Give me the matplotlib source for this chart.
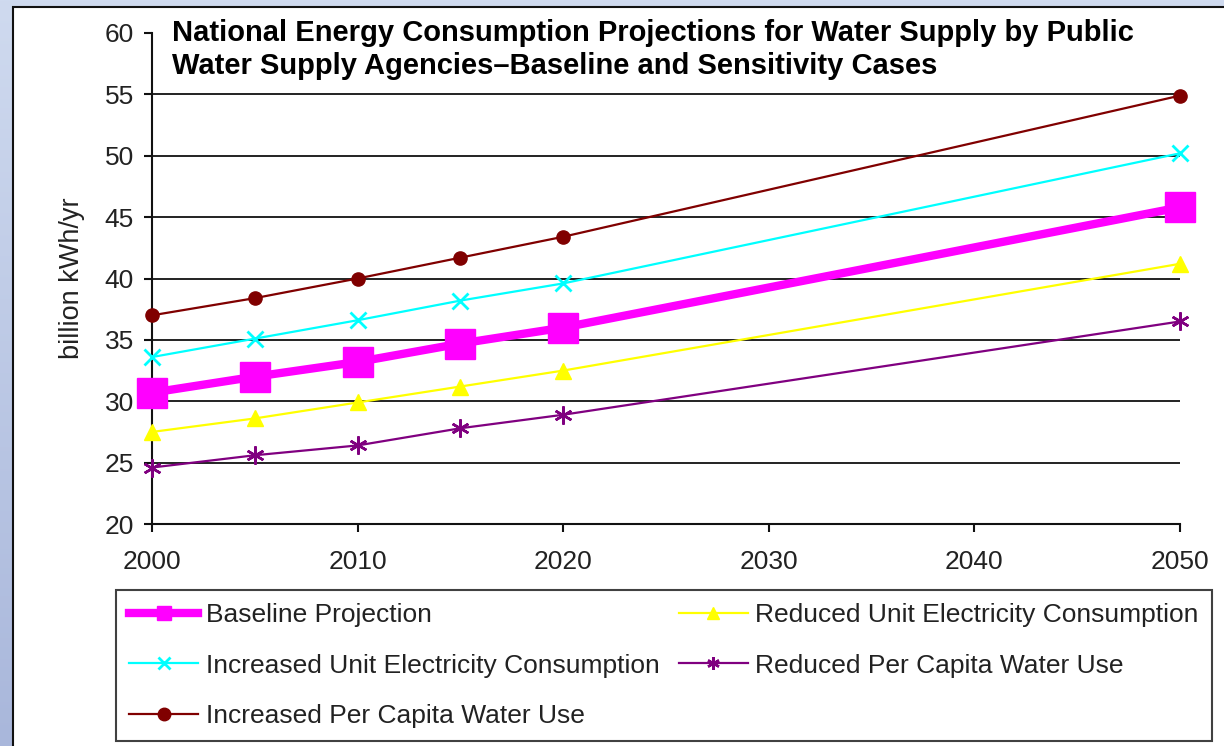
import numpy as np
import matplotlib.pyplot as plt
from matplotlib.patches import Rectangle
from matplotlib.colors import LinearSegmentedColormap

plt.rcParams['font.family'] = ['Liberation Sans', 'DejaVu Sans']

# projection years and series values (billion kWh/yr)
years = [2000, 2005, 2010, 2015, 2020, 2050]
baseline = [30.7, 32.0, 33.2, 34.7, 36.0, 45.8]
inc_unit = [33.6, 35.1, 36.6, 38.2, 39.6, 50.2]
inc_capita = [37.0, 38.4, 40.0, 41.7, 43.4, 54.9]
red_unit = [27.5, 28.6, 29.9, 31.2, 32.5, 41.2]
red_capita = [24.6, 25.6, 26.4, 27.8, 28.9, 36.5]

xticks = [2000, 2010, 2020, 2030, 2040, 2050]
yticks = [20, 25, 30, 35, 40, 45, 50, 55, 60]

W, H = 1224, 746
fig = plt.figure(figsize=(W / 100, H / 100), dpi=100)

# slide background: bluish gradient with a white framed chart area
bg = fig.add_axes([0, 0, 1, 1], zorder=-10)
grad = np.linspace(0, 1, 256).reshape(-1, 1)
bg.imshow(grad, aspect='auto', extent=[0, 1, 0, 1], origin='lower',
          cmap=LinearSegmentedColormap.from_list('bgc', ['#a9b7db', '#cfdaef']))
bg.add_patch(Rectangle((13 / W, -0.01), 1.0, 1 - 7 / H + 0.01,
                       facecolor='white', edgecolor='#111111', lw=1.5))
bg.set_xlim(0, 1)
bg.set_ylim(0, 1)
bg.axis('off')

ax = fig.add_axes([152 / W, 1 - 524 / H, (1180 - 152) / W, (524 - 33) / H])
ax.set_facecolor('none')

ax.plot(years, baseline, color='#ff00ff', lw=6, marker='s', ms=21,
        label='Baseline Projection', clip_on=False, zorder=5)
ax.plot(years, inc_unit, color='#00ffff', lw=1.6, marker='x', ms=12, mew=2,
        label='Increased Unit Electricity Consumption', clip_on=False, zorder=4)
ax.plot(years, inc_capita, color='#800000', lw=1.6, marker='o', ms=9.5,
        label='Increased Per Capita Water Use', clip_on=False, zorder=4)
ax.plot(years, red_unit, color='#ffff00', lw=1.6, marker='^', ms=12,
        label='Reduced Unit Electricity Consumption', clip_on=False, zorder=4)
ax.plot(years, red_capita, color='#800080', lw=1.6, marker=(6, 2, 0), ms=13, mew=1.8,
        label='Reduced Per Capita Water Use', clip_on=False, zorder=4)

ax.set_xlim(2000, 2050)
ax.set_ylim(20, 60)
ax.set_xticks(xticks)
ax.set_yticks(yticks)
ax.yaxis.grid(True, color='#111111', lw=1.3)
ax.get_ygridlines()[-1].set_visible(False)
ax.set_axisbelow(True)
for s in ('top', 'right'):
    ax.spines[s].set_visible(False)
for s in ('left', 'bottom'):
    ax.spines[s].set_linewidth(1.5)
    ax.spines[s].set_color('#111111')
ax.tick_params(direction='out', length=6, width=1.5, color='#111111',
               labelsize=19, labelcolor='#222222')
ax.tick_params(axis='x', pad=13)
ax.tick_params(axis='y', pad=7)

ax.set_ylabel('billion kWh/yr', fontsize=19.5, color='#222222', labelpad=14)

ax.text(172 / W, 1 - 19 / H,
        'National Energy Consumption Projections for Water Supply by Public\n'
        'Water Supply Agencies\u2013Baseline and Sensitivity Cases',
        transform=fig.transFigure, fontsize=21, fontweight='bold',
        va='top', ha='left', linespacing=1.24)

leg = fig.legend(loc='upper left', ncol=2, mode='expand',
                 bbox_to_anchor=(116 / W, 1 - 590 / H, (1212 - 116) / W, 0),
                 fontsize=19, frameon=True, fancybox=False, handlelength=2.6,
                 handletextpad=0.3, labelspacing=1.0, borderaxespad=0,
                 borderpad=0.5)
leg.get_frame().set_edgecolor('#111111')
leg.get_frame().set_linewidth(1.5)
for t in leg.get_texts():
    t.set_color('#222222')
for h in leg.legend_handles:
    h.set_markersize(9)
leg.legend_handles[0].set_markersize(10)

fig.savefig('out.png', dpi=100)
